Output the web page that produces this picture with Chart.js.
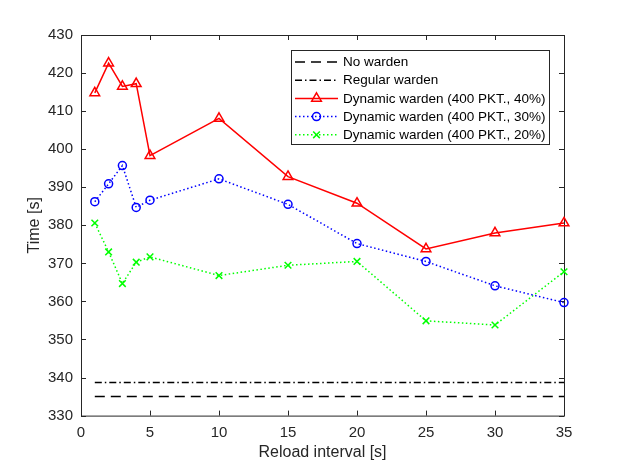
<!DOCTYPE html>
<html lang="en">

<head>
    <meta charset="UTF-8">
    <title>Reload interval vs time</title>
    <script src="https://cdn.jsdelivr.net/npm/chart.js"></script>
    <style>
        body { margin: 0; background: #fff; }
        #wrap { width: 623px; height: 467px; position: relative; }
    </style>
</head>

<body>
    <div id="wrap">
        <canvas id="wardenChart"></canvas>
    </div>

    <script>
        // Data
        const intervals = [1, 2, 3, 4, 5, 10, 15, 20, 25, 30, 35];
        const dyn40 = [414.8, 422.6, 416.5, 417.2, 398.3, 408.1, 392.8, 385.8, 373.8, 378.0, 380.6];
        const dyn30 = [386.2, 390.9, 395.7, 384.7, 386.6, 392.2, 385.5, 375.2, 370.5, 364.1, 359.7];
        const dyn20 = [380.6, 373.0, 364.7, 370.3, 371.7, 366.8, 369.5, 370.5, 354.9, 353.8, 367.8];
        const baselineX = [1, 35];
        const noWarden = [335.0, 335.0];
        const regularWarden = [338.7, 338.7];
        const xTicks = [0, 5, 10, 15, 20, 25, 30, 35];
        const yTicks = [330, 340, 350, 360, 370, 380, 390, 400, 410, 420, 430];

        const FONT = '"Liberation Sans", Arial, sans-serif';
        const AXIS_COLOR = '#262626';

        function pts(xs, ys) {
            return xs.map((x, i) => ({ x: x, y: ys[i] }));
        }

        // box + inward ticks on all four sides, matlab style
        const boxPlugin = {
            id: 'box',
            beforeDatasetsDraw(chart) {
                const { ctx, chartArea: a, scales } = chart;
                const len = 5;
                ctx.save();
                ctx.strokeStyle = AXIS_COLOR;
                ctx.lineWidth = 1;
                ctx.setLineDash([]);
                ctx.strokeRect(a.left + 0.5, a.top + 0.5, a.right - a.left, a.bottom - a.top);
                ctx.beginPath();
                xTicks.forEach(v => {
                    const px = Math.round(scales.x.getPixelForValue(v)) + 0.5;
                    ctx.moveTo(px, a.bottom); ctx.lineTo(px, a.bottom - len);
                    ctx.moveTo(px, a.top); ctx.lineTo(px, a.top + len);
                });
                yTicks.forEach(v => {
                    const py = Math.round(scales.y.getPixelForValue(v)) + 0.5;
                    ctx.moveTo(a.left, py); ctx.lineTo(a.left + len, py);
                    ctx.moveTo(a.right, py); ctx.lineTo(a.right - len, py);
                });
                ctx.stroke();
                ctx.restore();
            }
        };

        // legend box inside the plot, top right
        const legendPlugin = {
            id: 'insideLegend',
            afterDraw(chart) {
                const { ctx, chartArea: a } = chart;
                const w = 258, h = 94;
                const x0 = a.right - 15 - w, y0 = a.top + 15;
                ctx.save();
                ctx.fillStyle = '#fff';
                ctx.fillRect(x0, y0, w, h);
                ctx.strokeStyle = AXIS_COLOR;
                ctx.lineWidth = 1;
                ctx.strokeRect(x0 + 0.5, y0 + 0.5, w, h);
                ctx.font = '13.5px ' + FONT;
                ctx.textBaseline = 'middle';
                chart.data.datasets.forEach((ds, i) => {
                    const y = y0 + 12 + i * 18.2;
                    ctx.strokeStyle = ds.borderColor;
                    ctx.lineWidth = ds.borderWidth;
                    ctx.setLineDash(ds.borderDash || []);
                    ctx.beginPath();
                    ctx.moveTo(x0 + 4, y);
                    ctx.lineTo(x0 + 47, y);
                    ctx.stroke();
                    ctx.setLineDash([]);
                    if (ds.pointRadius > 0 && Chart.helpers && Chart.helpers.drawPoint) {
                        ctx.fillStyle = 'rgba(0,0,0,0)';
                        ctx.lineWidth = ds.pointBorderWidth;
                        Chart.helpers.drawPoint(ctx, {
                            pointStyle: ds.pointStyle,
                            radius: ds.pointRadius,
                            rotation: 0,
                            borderWidth: ds.pointBorderWidth
                        }, x0 + 25.5, y);
                    }
                    ctx.fillStyle = '#000';
                    ctx.fillText(ds.label, x0 + 52, y + 0.5);
                });
                ctx.restore();
            }
        };

        const ctx = document.getElementById('wardenChart').getContext('2d');
        new Chart(ctx, {
            type: 'line',
            data: {
                datasets: [
                    {
                        label: 'No warden',
                        data: pts(baselineX, noWarden),
                        borderColor: '#000',
                        borderWidth: 1.5,
                        borderDash: [10, 6],
                        pointRadius: 0
                    },
                    {
                        label: 'Regular warden',
                        data: pts(baselineX, regularWarden),
                        borderColor: '#000',
                        borderWidth: 1.5,
                        borderDash: [7, 3, 1.5, 3],
                        pointRadius: 0
                    },
                    {
                        label: 'Dynamic warden (400 PKT., 40%)',
                        data: pts(intervals, dyn40),
                        borderColor: '#ff0000',
                        borderWidth: 1.5,
                        pointStyle: 'triangle',
                        pointRadius: 5.6,
                        pointBorderWidth: 1.5,
                        pointBorderColor: '#ff0000',
                        pointBackgroundColor: 'rgba(0,0,0,0)'
                    },
                    {
                        label: 'Dynamic warden (400 PKT., 30%)',
                        data: pts(intervals, dyn30),
                        borderColor: '#0000ff',
                        borderWidth: 1.5,
                        borderDash: [1.5, 2.5],
                        pointStyle: 'circle',
                        pointRadius: 4,
                        pointBorderWidth: 1.5,
                        pointBorderColor: '#0000ff',
                        pointBackgroundColor: 'rgba(0,0,0,0)'
                    },
                    {
                        label: 'Dynamic warden (400 PKT., 20%)',
                        data: pts(intervals, dyn20),
                        borderColor: '#00ff00',
                        borderWidth: 1.5,
                        borderDash: [1.5, 2.5],
                        pointStyle: 'crossRot',
                        pointRadius: 4.7,
                        pointBorderWidth: 1.5,
                        pointBorderColor: '#00ff00',
                        pointBackgroundColor: 'rgba(0,0,0,0)'
                    }
                ]
            },
            options: {
                responsive: true,
                maintainAspectRatio: false,
                animation: false,
                layout: { padding: { left: 0, right: 59, top: 35, bottom: 0 } },
                elements: { line: { tension: 0, borderCapStyle: 'butt' } },
                datasets: { line: { clip: false } },
                plugins: {
                    legend: { display: false },
                    tooltip: { enabled: false }
                },
                scales: {
                    x: {
                        type: 'linear',
                        min: 0,
                        max: 35,
                        afterFit: s => { s.height = 51.4; },
                        afterBuildTicks: s => { s.ticks = xTicks.map(v => ({ value: v })); },
                        grid: { display: false, drawTicks: false },
                        border: { display: false },
                        ticks: {
                            padding: 8,
                            color: AXIS_COLOR,
                            font: { family: FONT, size: 15 },
                            maxRotation: 0
                        },
                        title: {
                            display: true,
                            text: 'Reload interval [s]',
                            color: AXIS_COLOR,
                            font: { family: FONT, size: 16 },
                            padding: { top: 0, bottom: 4.4 }
                        }
                    },
                    y: {
                        type: 'linear',
                        min: 330,
                        max: 430,
                        afterFit: s => { s.width = 81; },
                        afterBuildTicks: s => { s.ticks = yTicks.map(v => ({ value: v })); },
                        grid: { display: false, drawTicks: false },
                        border: { display: false },
                        ticks: {
                            padding: 8,
                            color: AXIS_COLOR,
                            font: { family: FONT, size: 15 }
                        },
                        title: {
                            display: true,
                            text: 'Time [s]',
                            color: AXIS_COLOR,
                            font: { family: FONT, size: 16 },
                            padding: { top: 25.4, bottom: 0 }
                        }
                    }
                }
            },
            plugins: [boxPlugin, legendPlugin]
        });
    </script>
</body>
</html>
